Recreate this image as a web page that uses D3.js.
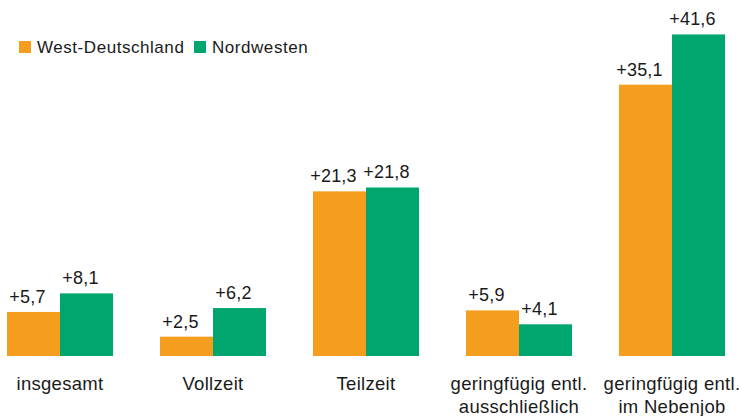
<!DOCTYPE html>
<html>
<head>
<meta charset="utf-8">
<script src="https://cdn.jsdelivr.net/npm/d3@7"></script>
<style>
  body { margin: 0; background: #fff; }
  text { font-family: "Liberation Sans", Arial, sans-serif; fill: #1a1a1a; }
</style>
</head>
<body>
<div id="chart"></div>
<script>
const categories = [
    ["insgesamt"],
    ["Vollzeit"],
    ["Teilzeit"],
    ["geringfügig entl.", "ausschließlich"],
    ["geringfügig entl.", "im Nebenjob"]
]
const seriesNames = ["West-Deutschland", "Nordwesten"]
const westValues = [5.7, 2.5, 21.3, 5.9, 35.1]
const nordValues = [8.1, 6.2, 21.8, 4.1, 41.6]
const colors = ["#f59d1f", "#00a66e"]

const width = 741, height = 416

let svg = d3.select("#chart").append("svg")
    .attr("width", width)
    .attr("height", height)

let x0 = d3.scaleBand()
    .domain(d3.range(categories.length))
    .range([7, 725])
    .paddingInner(0.307)
    .paddingOuter(0)

let x1 = d3.scaleBand()
    .domain(d3.range(seriesNames.length))
    .range([0, x0.bandwidth()])

let y = d3.scaleLinear()
    .domain([0, 46])
    .range([356, 0.4])

const fmt = v => "+" + d3.format(".1f")(v).replace(".", ",")

let data = categories.map((c, i) => ({ i: i, values: [westValues[i], nordValues[i]] }))

let groups = svg.append("g")
    .selectAll("g")
    .data(data)
    .join("g")
    .attr("transform", d => `translate(${x0(d.i)},0)`)

groups.selectAll("rect")
    .data(d => d.values)
    .join("rect")
    .attr("x", (d, j) => x1(j))
    .attr("y", d => y(d))
    .attr("width", x1.bandwidth())
    .attr("height", d => y(0) - y(d))
    .attr("fill", (d, j) => colors[j])

groups.selectAll("text.val")
    .data(d => d.values)
    .join("text")
    .attr("class", "val")
    .attr("x", (d, j) => x1(j) + x1.bandwidth() / 2 - 6)
    .attr("y", d => y(d) - 9)
    .attr("text-anchor", "middle")
    .style("font-size", "18px")
    .style("letter-spacing", "0.2px")
    .text(d => fmt(d))

// category labels, possibly two lines
let cat = svg.append("g")
    .selectAll("text")
    .data(categories)
    .join("text")
    .attr("x", (d, i) => x0(i) + x0.bandwidth() / 2)
    .attr("y", 390)
    .attr("text-anchor", "middle")
    .style("font-size", "18.5px")
    .style("letter-spacing", "0.3px")

cat.selectAll("tspan")
    .data(d => d)
    .join("tspan")
    .attr("x", function() { return this.parentNode.getAttribute("x") })
    .attr("dy", (d, k) => k == 0 ? 0 : 23)
    .text(d => d)

// legend
let legend = svg.append("g")
let legX = [19, 194]
seriesNames.forEach((name, j) => {
    legend.append("rect")
        .attr("x", legX[j])
        .attr("y", 41)
        .attr("width", 12)
        .attr("height", 12)
        .attr("fill", colors[j])
    legend.append("text")
        .attr("x", legX[j] + 18)
        .attr("y", 53)
        .style("font-size", "17px")
        .style("letter-spacing", "0.55px")
        .text(name)
})
</script>
</body>
</html>
